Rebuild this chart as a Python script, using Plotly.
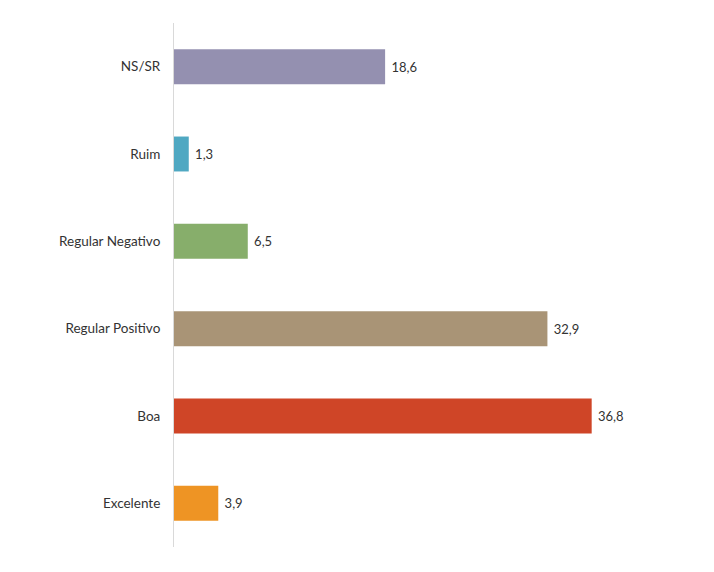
import plotly.graph_objects as go

categories = ["Excelente", "Boa", "Regular Positivo", "Regular Negativo", "Ruim", "NS/SR"]
values = [3.9, 36.8, 32.9, 6.5, 1.3, 18.6]
labels = ["3,9", "36,8", "32,9", "6,5", "1,3", "18,6"]
colors = ["#EE9424", "#CF4527", "#A99476", "#87AE6B", "#4FA8C2", "#9490B0"]

fig = go.Figure(go.Bar(
    x=values, y=categories, orientation="h",
    marker=dict(color=colors, line=dict(width=0)),
    width=0.4,
    text=[" " + t for t in labels], textposition="outside", cliponaxis=False,
    textfont=dict(size=13, color="#333333", family="Lato"),
))

fig.update_layout(
    width=714, height=572,
    margin=dict(l=166, r=94, t=15, b=33),
    paper_bgcolor="white", plot_bgcolor="white",
    showlegend=False,
    font=dict(family="Lato", size=13.5, color="#333333"),
    xaxis=dict(range=[0, 40], visible=False, showgrid=False, zeroline=False),
    yaxis=dict(range=[-0.5, 5.5], showline=True, linecolor="#D9D9D9", linewidth=1,
               showgrid=False, zeroline=False, ticks="", ticklabelstandoff=10,
               tickfont=dict(size=13.5, color="#333333", family="Lato")),
)

fig.write_html("out.html")
